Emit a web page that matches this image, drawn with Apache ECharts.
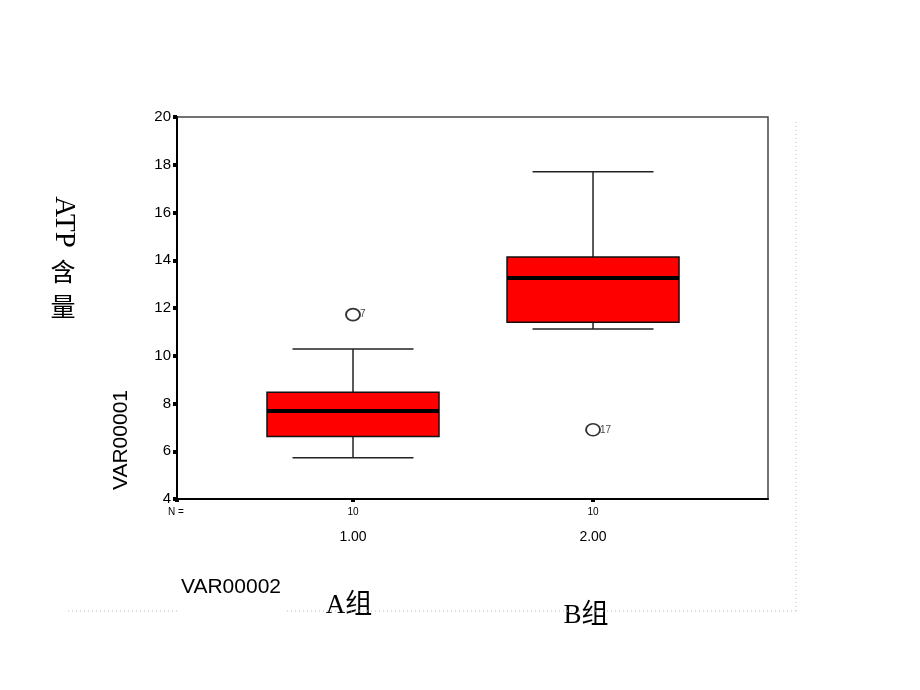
<!DOCTYPE html>
<html>
<head>
<meta charset="utf-8">
<script src="https://cdn.jsdelivr.net/npm/echarts@6/dist/echarts.min.js"></script>
<style>
html,body{margin:0;padding:0;background:#fff;}
#chart{width:920px;height:690px;}
</style>
</head>
<body>
<div id="chart"></div>
<script>
// ---- data ----
const groupPositions = [1, 2];
const groupLabels = ['1.00', '2.00'];
const groupCounts = [10, 10];
const whiskerLow = [5.73, 11.12];
const quartile1 = [6.62, 11.40];
const medians = [7.69, 13.26];
const quartile3 = [8.47, 14.14];
const whiskerHigh = [10.28, 17.71];
const outlierX = [1, 2];
const outlierY = [11.72, 6.90];
const outlierCase = ['7', '17'];
const yMin = 4, yMax = 20, yStep = 2;
const xMin = 0.2667, xMax = 2.729;

const boxData = groupPositions.map((p, i) => [p, whiskerLow[i], quartile1[i], medians[i], quartile3[i], whiskerHigh[i]]);
const outlierData = outlierX.map((x, i) => [x, outlierY[i], outlierCase[i]]);

const chart = echarts.init(document.getElementById('chart'), null, {renderer: 'canvas'});

function renderBox(params, api) {
  const x = api.value(0);
  const pLow = api.coord([x, api.value(1)]);
  const pQ1 = api.coord([x, api.value(2)]);
  const pMed = api.coord([x, api.value(3)]);
  const pQ3 = api.coord([x, api.value(4)]);
  const pHigh = api.coord([x, api.value(5)]);
  const bw = 172, cw = 121;
  const cx = pMed[0];
  const lineStyle = {stroke: '#222', lineWidth: 1.5};
  return {
    type: 'group',
    children: [
      {type: 'line', shape: {x1: cx, y1: pLow[1], x2: cx, y2: pQ1[1]}, style: lineStyle},
      {type: 'line', shape: {x1: cx, y1: pQ3[1], x2: cx, y2: pHigh[1]}, style: lineStyle},
      {type: 'line', shape: {x1: cx - cw / 2, y1: pLow[1], x2: cx + cw / 2, y2: pLow[1]}, style: lineStyle},
      {type: 'line', shape: {x1: cx - cw / 2, y1: pHigh[1], x2: cx + cw / 2, y2: pHigh[1]}, style: lineStyle},
      {type: 'rect', shape: {x: cx - bw / 2, y: pQ3[1], width: bw, height: pQ1[1] - pQ3[1]},
        style: {fill: '#ff0000', stroke: '#111', lineWidth: 1.5}},
      {type: 'line', shape: {x1: cx - bw / 2, y1: pMed[1], x2: cx + bw / 2, y2: pMed[1]},
        style: {stroke: '#000', lineWidth: 4}}
    ]
  };
}

const option = {
  backgroundColor: '#fff',
  animation: false,
  grid: {left: 177, top: 117, right: 152, bottom: 191, show: true, borderColor: '#444', borderWidth: 1.5},
  xAxis: {
    type: 'value', min: xMin, max: xMax,
    splitLine: {show: false},
    axisLine: {show: true, onZero: false, lineStyle: {color: '#000', width: 2}},
    axisTick: {show: true, customValues: [xMin].concat(groupPositions), length: 3, lineStyle: {color: '#000', width: 4}},
    axisLabel: {
      show: true, customValues: groupPositions, margin: 6,
      fontFamily: 'Arial, "Liberation Sans", sans-serif', color: '#000',
      formatter: function (v) {
        const i = groupPositions.indexOf(Math.round(v));
        return '{n|' + groupCounts[i] + '}\n{v|' + groupLabels[i] + '}';
      },
      rich: {
        n: {fontSize: 10, lineHeight: 14, color: '#000', fontFamily: 'Arial, "Liberation Sans", sans-serif'},
        v: {fontSize: 14, lineHeight: 36, color: '#000', fontFamily: 'Arial, "Liberation Sans", sans-serif'}
      }
    }
  },
  yAxis: {
    type: 'value', min: yMin, max: yMax, interval: yStep,
    splitLine: {show: false},
    axisLine: {show: true, lineStyle: {color: '#000', width: 2}},
    axisTick: {show: true, length: 4, lineStyle: {color: '#000', width: 4}},
    axisLabel: {margin: 6, fontSize: 15, color: '#000', fontFamily: 'Arial, "Liberation Sans", sans-serif'}
  },
  series: [
    {type: 'custom', renderItem: renderBox, data: boxData, encode: {x: 0, y: [1, 2, 3, 4, 5]}, z: 2},
    {
      type: 'scatter', data: outlierData, symbol: 'circle', symbolSize: [14, 12], z: 3,
      itemStyle: {color: '#fff', borderColor: '#000', borderWidth: 1.8},
      label: {show: true, position: 'right', distance: -1, formatter: p => p.data[2],
        fontSize: 10, color: '#111', fontFamily: 'Arial, "Liberation Sans", sans-serif'}
    }
  ],
  graphic: [
    {type: 'text', x: 176, y: 512, style: {text: 'N =', fontSize: 10, fill: '#000', align: 'center', verticalAlign: 'middle', fontFamily: 'Arial, "Liberation Sans", sans-serif'}},
    {type: 'text', x: 121, y: 440, rotation: Math.PI / 2, style: {text: 'VAR00001', fontSize: 21, fill: '#000', align: 'center', verticalAlign: 'middle', fontFamily: 'Arial, "Liberation Sans", sans-serif'}},
    {type: 'text', x: 231, y: 587, style: {text: 'VAR00002', fontSize: 21, fill: '#000', align: 'center', verticalAlign: 'middle', fontFamily: 'Arial, "Liberation Sans", sans-serif'}},
    {type: 'text', x: 64, y: 222, rotation: -Math.PI / 2, style: {text: 'ATP', fontSize: 29, fill: '#000', align: 'center', verticalAlign: 'middle', fontFamily: '"Liberation Serif", "DejaVu Serif", serif'}},
    {type: 'text', x: 63, y: 271, style: {text: '含', fontSize: 25, fill: '#000', align: 'center', verticalAlign: 'middle', fontFamily: '"Noto Sans CJK SC", sans-serif'}},
    {type: 'text', x: 63, y: 306, style: {text: '量', fontSize: 25, fill: '#000', align: 'center', verticalAlign: 'middle', fontFamily: '"Noto Sans CJK SC", sans-serif'}},
    {type: 'text', x: 349, y: 606, style: {text: 'A组', fontSize: 27, fill: '#000', align: 'center', verticalAlign: 'middle', fontFamily: '"Liberation Serif", "Noto Sans CJK SC", serif'}},
    {type: 'text', x: 586, y: 616, style: {text: 'B组', fontSize: 27, fill: '#000', align: 'center', verticalAlign: 'middle', fontFamily: '"Liberation Serif", "Noto Sans CJK SC", serif'}},
    {type: 'line', shape: {x1: 68, y1: 611, x2: 178, y2: 611}, style: {stroke: '#bbb', lineWidth: 1, lineDash: [1, 3]}},
    {type: 'line', shape: {x1: 287, y1: 611, x2: 796, y2: 611}, style: {stroke: '#bbb', lineWidth: 1, lineDash: [1, 3]}},
    {type: 'line', shape: {x1: 796, y1: 122, x2: 796, y2: 611}, style: {stroke: '#bbb', lineWidth: 1, lineDash: [1, 3]}}
  ]
};
chart.setOption(option);
</script>
</body>
</html>
